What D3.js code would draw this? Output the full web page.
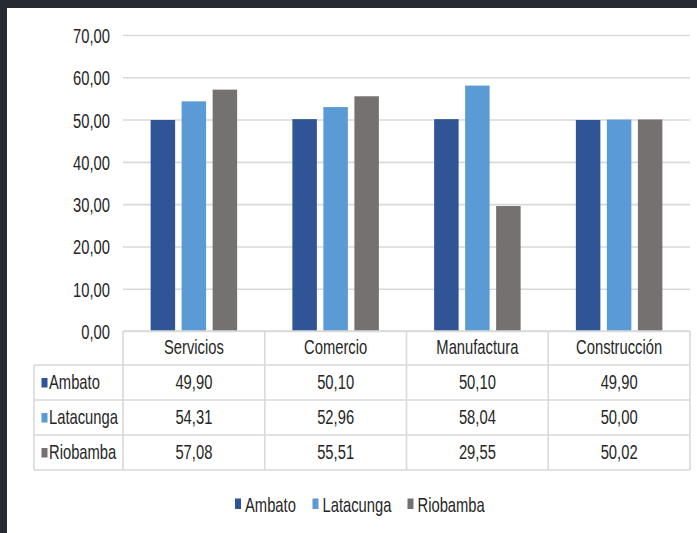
<!DOCTYPE html>
<html>
<head>
<meta charset="utf-8">
<script src="https://cdn.jsdelivr.net/npm/d3@7"></script>
<style>
  html, body { margin: 0; padding: 0; background: #fff; }
  svg { display: block; }
  text { font-family: "Liberation Sans", Arial, sans-serif; fill: #262626; }
</style>
</head>
<body>
<script>
const categories = ["Servicios", "Comercio", "Manufactura", "Construcción"];
const seriesNames = ["Ambato", "Latacunga", "Riobamba"];
const ambato = [49.90, 50.10, 50.10, 49.90];
const latacunga = [54.31, 52.96, 58.04, 50.00];
const riobamba = [57.08, 55.51, 29.55, 50.02];
const yTicks = [0, 10, 20, 30, 40, 50, 60, 70];
const colors = ["#2f5597", "#5b9bd5", "#767171"];

const series = [ambato, latacunga, riobamba];

const W = 697, H = 533;
const FS = 20.5, SX = 0.72;
const svg = d3.select("body").append("svg").attr("width", W).attr("height", H);

function narrowText(parent, tx, ty, str, anchor) {
  return parent.append("text")
    .attr("transform", `translate(${tx},${ty}) scale(${SX},1)`)
    .attr("text-anchor", anchor || "start")
    .attr("font-size", FS)
    .text(str);
}

// dark frame
svg.append("rect").attr("x", 0).attr("y", 0).attr("width", W).attr("height", H).attr("fill", "#252a33");
svg.append("rect").attr("x", 7).attr("y", 8).attr("width", W - 7).attr("height", H - 8).attr("fill", "#ffffff");

const plotLeft = 123, plotRight = 690, plotTop = 35, plotBase = 331;
const loc = d3.formatLocale({decimal: ",", thousands: ".", grouping: [3], currency: ["", ""]});
const fmt = loc.format(".2f");

const x = d3.scaleBand().domain(categories).range([plotLeft, plotRight]).paddingInner(0).paddingOuter(0);
const xs = d3.scaleBand().domain(seriesNames).range([-43.25, 43.25]).paddingInner(0.21).paddingOuter(0);
const y = d3.scaleLinear().domain([0, 70]).range([plotBase, plotTop]);

// gridlines + y labels
const yAxis = d3.axisLeft(y).tickValues(yTicks).tickSize(-(plotRight - plotLeft)).tickFormat(fmt);
const gy = svg.append("g").attr("transform", `translate(${plotLeft},0)`).call(yAxis);
gy.select(".domain").remove();
gy.selectAll(".tick line").attr("stroke", "#d9d9d9").attr("stroke-width", 1.6);
gy.selectAll(".tick text")
  .attr("x", 0).attr("dy", null).attr("y", 0)
  .attr("transform", `translate(-13,7.5) scale(${SX},1)`)
  .attr("font-size", FS).attr("fill", "#262626")
  .attr("font-family", '"Liberation Sans", Arial, sans-serif');

// bars
seriesNames.forEach((s, si) => {
  svg.append("g").selectAll("rect").data(categories).join("rect")
    .attr("x", c => x(c) + x.bandwidth() / 2 + xs(s))
    .attr("width", xs.bandwidth())
    .attr("y", (c, i) => y(series[si][i]))
    .attr("height", (c, i) => plotBase - y(series[si][i]))
    .attr("fill", colors[si]);
});

// data table
const rowH = 35;
const tableLeft = 34;
const rowsTop = plotBase + 34;
const lineColor = "#d9d9d9";
const tg = svg.append("g");
tg.append("line").attr("x1", plotLeft).attr("x2", plotRight).attr("y1", plotBase).attr("y2", plotBase).attr("stroke", lineColor).attr("stroke-width", 1.6);
for (let r = 0; r <= 3; r++) {
  const yy = rowsTop + r * rowH;
  tg.append("line").attr("x1", tableLeft).attr("x2", plotRight).attr("y1", yy).attr("y2", yy).attr("stroke", lineColor).attr("stroke-width", 1.6);
}
tg.append("line").attr("x1", tableLeft).attr("x2", tableLeft).attr("y1", rowsTop).attr("y2", rowsTop + 3 * rowH).attr("stroke", lineColor).attr("stroke-width", 1.6);
categories.forEach(c => {
  tg.append("line").attr("x1", x(c)).attr("x2", x(c)).attr("y1", plotBase).attr("y2", rowsTop + 3 * rowH).attr("stroke", lineColor).attr("stroke-width", 1.6);
});
tg.append("line").attr("x1", plotRight).attr("x2", plotRight).attr("y1", plotBase).attr("y2", rowsTop + 3 * rowH).attr("stroke", lineColor).attr("stroke-width", 1.6);

// header
categories.forEach(c => {
  narrowText(tg, x(c) + x.bandwidth() / 2, plotBase + 23, c, "middle");
});

// rows
seriesNames.forEach((s, si) => {
  const cy = rowsTop + si * rowH + rowH / 2;
  tg.append("rect").attr("x", 41.5).attr("y", cy - 4.5).attr("width", 6).attr("height", 9.5).attr("fill", colors[si]);
  narrowText(tg, 49, cy + 6, s, "start");
  categories.forEach((c, i) => {
    narrowText(tg, x(c) + x.bandwidth() / 2, cy + 6, fmt(series[si][i]), "middle");
  });
});

// legend
const legendX = [235, 312.5, 407.5];
const lg = svg.append("g");
seriesNames.forEach((s, si) => {
  lg.append("rect").attr("x", legendX[si]).attr("y", 498.5).attr("width", 6).attr("height", 10.5).attr("fill", colors[si]);
  narrowText(lg, legendX[si] + 10, 511.5, s, "start");
});
</script>
</body>
</html>
